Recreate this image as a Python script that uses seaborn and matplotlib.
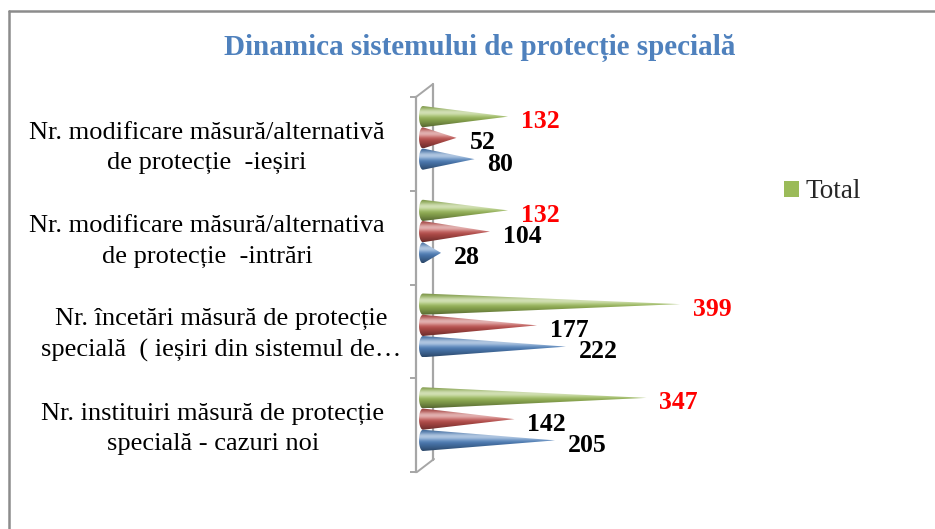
import numpy as np
import pandas as pd
import matplotlib
matplotlib.use("Agg")
import matplotlib.pyplot as plt
import seaborn as sns
from matplotlib.path import Path
from matplotlib.patches import PathPatch, Patch
from matplotlib.lines import Line2D
from matplotlib.colors import to_rgb

# ---------------- data ----------------
categories = [
    "Nr. modificare măsură/alternativă\nde protecție  -ieșiri",
    "Nr. modificare măsură/alternativa\nde protecție  -intrări",
    "Nr. încetări măsură de protecție\nspecială  ( ieșiri din sistemul de…",
    "Nr. instituiri măsură de protecție\nspecială - cazuri noi",
]
series_names = ["Total", "Seria 2", "Seria 1"]
total_values = [132, 132, 399, 347]
series2_values = [52, 104, 177, 142]
series1_values = [80, 28, 222, 205]

# ---------------- style ----------------
sns.set_theme(style="white")
plt.rcParams["font.family"] = ["Liberation Serif", "DejaVu Serif"]

colors = {"Total": "#9BBB59", "Seria 2": "#C0504D", "Seria 1": "#4F81BD"}
label_colors = {"Total": "#FF0000", "Seria 2": "#000000", "Seria 1": "#000000"}

W, H = 935, 529
fig = plt.figure(figsize=(W / 100, H / 100), dpi=100)
fig.patch.set_facecolor("white")

ax_l, ax_r, ax_t, ax_b = 416, 740, 97, 472
ax = fig.add_axes([ax_l / W, 1 - ax_b / H, (ax_r - ax_l) / W, (ax_b - ax_t) / H])

df = pd.DataFrame({
    "cat": np.repeat(categories, 3),
    "series": series_names * len(categories),
    "value": np.ravel(np.column_stack([total_values, series2_values, series1_values])),
})

sns.barplot(data=df, y="cat", x="value", hue="series", hue_order=series_names,
            order=categories, orient="h", palette=colors, width=0.68,
            dodge=True, legend=False, ax=ax, errorbar=None)

px_per_unit = 0.644
xmin = -(423 - ax_l) / px_per_unit
xmax = (ax_r - 423) / px_per_unit
ax.set_xlim(xmin, xmax)
ax.set_ylim(len(categories) - 0.5, -0.5)

band_px = (ax_b - ax_t) / len(categories)
shift = -6 / band_px  # cones sit slightly above band centre (3D perspective)
base_px = 4.0
base_units = base_px / px_per_unit


def gradient_for(color, n=64):
    c = np.array(to_rgb(color))
    t = np.linspace(0, 1, n)
    # highlight near upper third, darker edges
    hl = np.exp(-((t - 0.33) / 0.18) ** 2)
    dark = np.clip(np.abs(t - 0.4) / 0.6, 0, 1) ** 1.5
    col = c[None, :] * (1 - 0.45 * dark[:, None])
    col = col + (1 - col) * (0.55 * hl[:, None])
    return np.clip(col, 0, 1)[:, None, :]


patches = list(ax.patches)
for i, p in enumerate(patches):
    s_name = series_names[i // len(categories)]
    y0 = p.get_y() + shift
    h = p.get_height()
    y1 = y0 + h
    x0 = p.get_x()
    val = p.get_width()
    x1 = x0 + val
    ym = (y0 + y1) / 2
    p.set_visible(False)
    # cone outline: half-ellipse base on the left + triangle to the apex
    th = np.linspace(np.pi / 2, 3 * np.pi / 2, 30)
    ex = x0 + base_units * np.cos(th)
    ey = ym - (h / 2) * np.sin(th)
    verts = list(zip(ex, ey)) + [(x1, ym), (ex[0], ey[0])]
    codes = [Path.MOVETO] + [Path.LINETO] * (len(verts) - 2) + [Path.CLOSEPOLY]
    path = Path(verts, codes)
    clip = PathPatch(path, facecolor="none", edgecolor="none")
    ax.add_patch(clip)
    im = ax.imshow(gradient_for(colors[s_name]), extent=(x0 - base_units, x1, y1, y0),
                   origin="upper", aspect="auto", interpolation="bilinear", zorder=3)
    im.set_clip_path(clip)
    ax.annotate(f"{int(val)}", xy=(x1, ym), xytext=(13, -5), textcoords="offset pixels",
                ha="left", va="center", fontsize=18.5, fontweight="bold",
                color=label_colors[s_name], zorder=5, annotation_clip=False)

ax.set_xlim(xmin, xmax)
ax.set_ylim(len(categories) - 0.5, -0.5)

# axes decorations (3D wall look)
for sp in ["top", "right", "bottom"]:
    ax.spines[sp].set_visible(False)
wall = "#A6A6A6"
ax.spines["left"].set_color(wall)
ax.spines["left"].set_linewidth(1.6)
ax.set_xticks([])
ax.set_yticks(np.arange(-0.5, len(categories), 1.0))
ax.set_yticklabels([])
ax.tick_params(axis="y", direction="out", length=4.3, width=1.4, color=wall, left=True)
ax.set_xlabel("")
ax.set_ylabel("")
ax.set_facecolor("none")

aw = ax_r - ax_l
ah = ax_b - ax_t
def fx(px):
    return (px - ax_l) / aw
def fy(py):
    return (ax_b - py) / ah
ax.plot([fx(433), fx(433)], [fy(84), fy(460)], color=wall, lw=1.6, transform=ax.transAxes, clip_on=False, zorder=1)
ax.plot([fx(416), fx(433)], [fy(97), fy(84)], color=wall, lw=1.4, transform=ax.transAxes, clip_on=False, zorder=1)
ax.plot([fx(417), fx(434)], [fy(472), fy(459)], color=wall, lw=1.4, transform=ax.transAxes, clip_on=False, zorder=1)

# category labels
label_x_px = [207, 207, 221, 213]
for i, cat in enumerate(categories):
    ypx = ax_t + band_px * (i + 0.5) + 4
    fig.text(label_x_px[i] / W, 1 - ypx / H, cat, ha="center", va="center",
             multialignment="center", fontsize=19, linespacing=1.5, color="black")

# title
fig.text(480 / W, 1 - 48 / H, "Dinamica sistemului de protecție specială",
         ha="center", va="center", fontsize=21, fontweight="bold", color="#4F81BD")

# legend (only Total shown)
fig.legend(handles=[Patch(facecolor=colors["Total"], edgecolor="none", label="Total")],
           loc="center left", bbox_to_anchor=(784 / W, 1 - 192 / H), frameon=False,
           fontsize=19.5, handlelength=0.55, handleheight=0.55, handletextpad=0.25,
           borderpad=0, borderaxespad=0)

# outer chart frame (only left and top visible in crop)
fig.add_artist(Line2D([8.5 / W, 8.5 / W], [0, 1 - 11 / H], color="#8C8C8C", lw=1.8, transform=fig.transFigure))
fig.add_artist(Line2D([8.5 / W, 1], [1 - 11 / H, 1 - 11 / H], color="#8C8C8C", lw=1.8, transform=fig.transFigure))

fig.savefig("out.png", dpi=100)
